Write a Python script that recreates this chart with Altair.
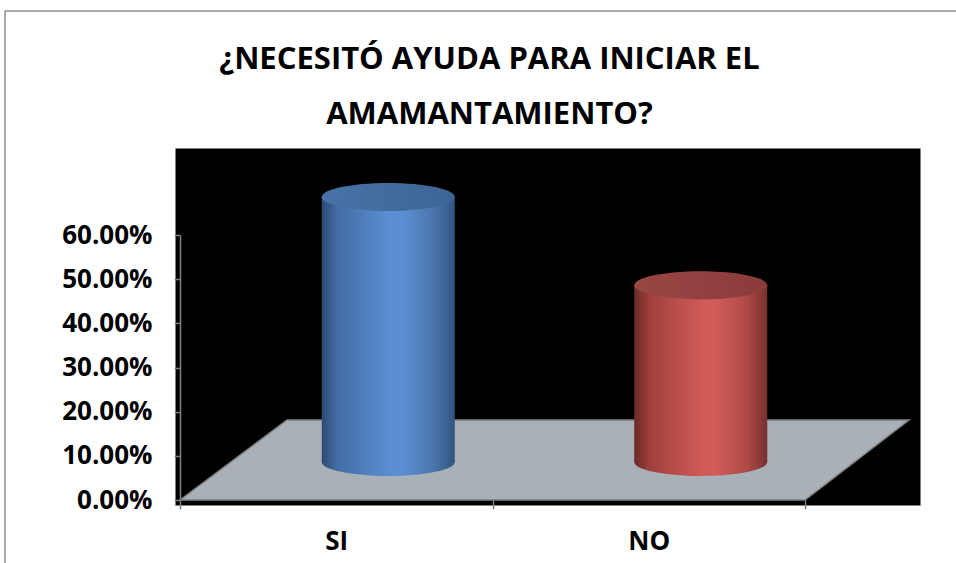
import altair as alt
import pandas as pd

# ---- data ----
categories = ["SI", "NO"]
values = [0.60, 0.40]
y_ticks = [0.0, 0.1, 0.2, 0.3, 0.4, 0.5, 0.6]
title_lines = ["¿NECESITÓ AYUDA PARA INICIAR EL", "AMAMANTAMIENTO?"]

df = pd.DataFrame({"cat": categories, "val": values})
one = pd.DataFrame({"k": [0]})

FONT = "Open Sans"
W, H = 745, 357

x_scale = alt.Scale(domain=categories, range=[5, 630], paddingInner=0, paddingOuter=0)
y_scale = alt.Scale(domain=[0, 0.6], range=[352, 87], nice=False, zero=True)

x_axis = alt.Axis(title=None, tickBand="extent", domain=False, tickColor="#7f7f7f",
                  tickSize=9, tickWidth=1.5, offset=-5, labelFont=FONT, labelFontSize=26,
                  labelFontWeight="bold", labelColor="black", labelPadding=19, labelAngle=0,
                  zindex=1)
y_axis = alt.Axis(title=None, values=y_ticks, format=".2%", grid=False,
                  domainColor="#7f7f7f", domainWidth=1.5, tickColor="#7f7f7f", tickSize=6,
                  tickWidth=1.5, offset=-5, labelFont=FONT, labelFontSize=26,
                  labelFontWeight="bold", labelColor="black", labelPadding=22, zindex=1)

# depth shift of the cylinders (3-D look)
DX, DY = 52, -38
BAR_W = 133
ELLIPSE = "M -1 0 A 1 0.21 0 1 1 1 0 A 1 0.21 0 1 1 -1 0 Z"


def grad(stops):
    return alt.LinearGradient(
        gradient="linear", x1=0, x2=1, y1=0, y2=0,
        stops=[alt.GradientStop(color=c, offset=o) for o, c in stops])


side_colors = {
    "SI": grad([(0, "#2c4b73"), (0.12, "#436da4"), (0.5, "#5a8ed2"), (0.62, "#5b8ed1"),
                (0.85, "#4874aa"), (1, "#33557f")]),
    "NO": grad([(0, "#6a2a28"), (0.12, "#a0403d"), (0.5, "#cf5a56"), (0.62, "#d05b57"),
                (0.85, "#ae4946"), (1, "#76302e")]),
}
top_colors = {
    "SI": grad([(0, "#4873a7"), (1, "#3d6594")]),
    "NO": grad([(0, "#984644"), (1, "#8a3c3a")]),
}

base = alt.Chart(df).encode(
    x=alt.X("cat:N", scale=x_scale, axis=x_axis, sort=categories),
)

# chart border
border_left = alt.Chart(one).mark_rule(color="#8c8c8c", strokeWidth=1.5).encode(
    x=alt.value(-170), y=alt.value(-137), y2=alt.value(415))
border_top = alt.Chart(one).mark_rule(color="#8c8c8c", strokeWidth=1.5).encode(
    x=alt.value(-170), x2=alt.value(781), y=alt.value(-137))

# floor of the 3-D plot
floor = alt.Chart(one).mark_point(
    shape="M 5 352 L 112 272 L 734 272 L 630 352 Z", size=4, filled=True,
    fill="#a9b0b7", stroke="#7f7f7f", strokeWidth=1.5, opacity=1,
).encode(x=alt.value(0), y=alt.value(0))

layers = [border_left, border_top, floor]
for cat in categories:
    sub = base.transform_filter(alt.datum.cat == cat)
    bottom = sub.mark_point(shape=ELLIPSE, size=BAR_W ** 2, filled=True,
                            fill=side_colors[cat], strokeWidth=0, opacity=1,
                            xOffset=DX, yOffset=DY).encode(
        y=alt.datum(0, scale=y_scale, axis=y_axis))
    body = sub.mark_bar(width=BAR_W, color=side_colors[cat], xOffset=DX,
                        yOffset=DY, y2Offset=DY).encode(
        y=alt.Y("val:Q", scale=y_scale, axis=y_axis))
    top = sub.mark_point(shape=ELLIPSE, size=BAR_W ** 2, filled=True,
                         fill=top_colors[cat], strokeWidth=0, opacity=1,
                         xOffset=DX, yOffset=DY).encode(
        y=alt.Y("val:Q", scale=y_scale, axis=y_axis))
    layers += [bottom, body, top]

chart = alt.layer(*layers).properties(
    width=W, height=H,
    padding={"left": 175, "top": 148, "right": 36, "bottom": 58},
    autosize=alt.AutoSizeParams(type="none"),
    background="white",
    title=alt.Title(text=title_lines, anchor="middle", dx=-58, dy=169, fontSize=31,
                    font=FONT, fontWeight="bold", color="black", lineHeight=55,
                    baseline="bottom", offset=17),
).configure_view(fill="black", stroke="transparent")

chart.save("out.html", embed_options={"renderer": "svg", "actions": False})
